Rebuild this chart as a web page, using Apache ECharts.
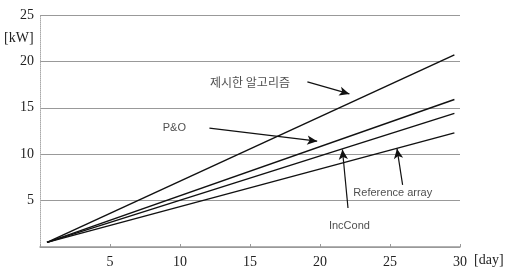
<!DOCTYPE html>
<html>
<head>
<meta charset="utf-8">
<script src="https://cdn.jsdelivr.net/npm/echarts@6/dist/echarts.min.js"></script>
<style>
html,body{margin:0;padding:0;background:#fff;}
#main{width:511px;height:273px;}
</style>
</head>
<body>
<div id="main"></div>
<script>
// 데이터 (day, kW)
var names = ['제시한 알고리즘', 'P&O', 'IncCond', 'Reference array'];
var startPt = [0.5, 0.5];
var endDay = 29.6;
var endVal = [20.7, 15.9, 14.4, 12.3];

// 주석 화살표 [from, to]
var arrows = [
	[[19.1, 17.8], [22.1, 16.5]],
	[[12.1, 12.8], [19.8, 11.4]],
	[[22.0, 4.2], [21.6, 10.5]],
	[[25.9, 6.7], [25.5, 10.6]]
];
// 주석 텍스트 위치
var notes = [
	['제시한 알고리즘', 15.0, 17.7],
	['P&O', 9.6, 12.8],
	['IncCond', 22.1, 2.3],
	['Reference array', 25.2, 5.8]
];

var myChart = echarts.init(document.getElementById('main'));
var serif = '"Liberation Serif","DejaVu Serif",serif';

var series = names.map(function(n, i){
	return {
		name: n,
		type: 'line',
		symbol: 'none',
		lineStyle: {color: '#111', width: 1.5},
		data: [startPt, [endDay, endVal[i]]]
	};
});

series.push({
	type: 'line',
	data: [],
	markLine: {
		silent: true,
		symbol: ['none', 'arrow'],
		symbolSize: [7, 10],
		label: {show: false},
		lineStyle: {color: '#111', width: 1.2, type: 'solid'},
		data: arrows.map(function(a){
			return [{coord: a[0]}, {coord: a[1]}];
		})
	}
});

series.push({
	type: 'scatter',
	symbolSize: 0,
	silent: true,
	label: {
		show: true,
		position: 'inside',
		color: '#222',
		fontSize: 11,
		fontFamily: '"Liberation Sans","Noto Sans CJK KR",sans-serif',
		formatter: function(p){ return p.value[2]; }
	},
	data: notes.map(function(t, i){
		var d = {value: [t[1], t[2], t[0]]};
		// 한글 라벨은 조금 크게
		if(i == 0) d.label = {fontSize: 12, fontFamily: '"Noto Sans CJK KR",sans-serif'};
		return d;
	})
});

var option = {
	animation: false,
	grid: {left: 40, right: 51, top: 15, bottom: 26},
	xAxis: {
		type: 'value',
		min: 0, max: 30, interval: 5,
		axisLine: {lineStyle: {color: '#999', width: 1.5}},
		axisTick: {show: true, inside: true, length: 3, lineStyle: {color: '#999'}},
		splitLine: {show: false},
		axisLabel: {
			color: '#222', fontSize: 14, fontFamily: serif, margin: 8,
			formatter: function(v){ return v === 0 ? '' : v; }
		}
	},
	yAxis: {
		type: 'value',
		min: 0, max: 25, interval: 5,
		axisLine: {show: true, lineStyle: {color: '#aaa', type: 'dotted'}},
		axisTick: {show: false},
		splitLine: {lineStyle: {color: '#999', width: 1.2}},
		axisLabel: {
			color: '#222', fontSize: 14, fontFamily: serif, margin: 6,
			formatter: function(v){ return v === 0 ? '' : v; }
		}
	},
	graphic: [
		{type: 'text', left: 4, top: 31, style: {text: '[kW]', fontSize: 14, fontFamily: serif, fill: '#222'}},
		{type: 'text', left: 474, top: 253, style: {text: '[day]', fontSize: 14, fontFamily: serif, fill: '#222'}}
	],
	series: series
};
myChart.setOption(option);
</script>
</body>
</html>
